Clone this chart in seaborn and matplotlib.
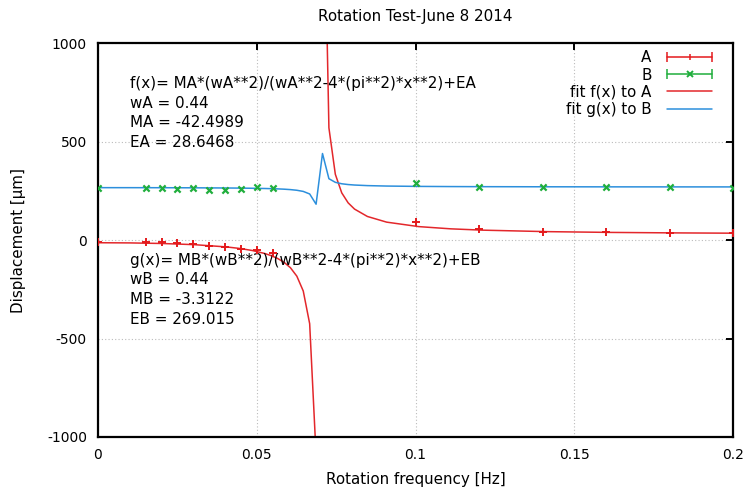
import numpy as np
import pandas as pd
import matplotlib
matplotlib.use("Agg")
import matplotlib.pyplot as plt
import seaborn as sns
from matplotlib.lines import Line2D
from matplotlib.legend_handler import HandlerTuple, HandlerLine2D

# ---- data ----
freq_A = [0.0, 0.015, 0.02, 0.025, 0.03, 0.035, 0.04, 0.045, 0.05, 0.055,
          0.1, 0.12, 0.14, 0.16, 0.18, 0.2]
disp_A = [-10, -9, -12, -17, -22, -30, -37, -46, -51, -68,
          91, 57, 42, 39, 35, 34]

freq_B = [0.0, 0.015, 0.02, 0.025, 0.03, 0.035, 0.04, 0.045, 0.05, 0.055,
          0.1, 0.12, 0.14, 0.16, 0.18, 0.2]
disp_B = [262, 265.6, 262, 259, 264, 255, 252, 260, 267, 264,
          291, 271, 271, 269, 269, 266]

# sampled fit curves (values as drawn in the reference)
fit_x = [0.0, 0.010101, 0.020202, 0.030303, 0.040404, 0.044444, 0.048485,
         0.052525, 0.054545, 0.056566, 0.058586, 0.060606, 0.062626,
         0.064646, 0.066667, 0.068687, 0.070707, 0.072727, 0.074747,
         0.076768, 0.078788, 0.080808, 0.084848, 0.090909, 0.10101,
         0.111111, 0.121212, 0.141414, 0.161616, 0.181818, 0.2]
fit_f = [-13.85, -14.76, -17.71, -23.64, -35.06, -42.52, -52.99,
         -68.52, -79.41, -93.65, -112.97, -140.68, -183.60,
         -258.90, -424.96, -1091.5, 2210.1, 569.5, 333.68,
         239.31, 188.52, 156.82, 119.45, 90.67, 67.98,
         56.65, 49.94, 42.45, 38.47, 36.05, 34.58]
fit_g = [265.70, 265.63, 265.40, 264.94, 264.05, 263.47, 262.65,
         261.44, 260.59, 259.48, 257.98, 255.82, 252.47,
         246.61, 233.66, 181.71, 439.03, 311.17, 292.79,
         285.43, 281.48, 279.00, 276.09, 273.85, 272.08,
         271.20, 270.67, 270.09, 269.78, 269.59, 269.48]
fit_f_branch = [0] * 16 + [1] * 15

x_ticks = [0, 0.05, 0.1, 0.15, 0.2]
x_ticklabels = ["0", "0.05", "0.1", "0.15", "0.2"]
y_ticks = [-1000, -500, 0, 500, 1000]

title = "Rotation Test-June 8 2014"
xlabel = "Rotation frequency [Hz]"
ylabel = "Displacement [\u03bcm]"
f_text = ["f(x)= MA*(wA**2)/(wA**2-4*(pi**2)*x**2)+EA",
          "wA = 0.44", "MA = -42.4989", "EA = 28.6468"]
g_text = ["g(x)= MB*(wB**2)/(wB**2-4*(pi**2)*x**2)+EB",
          "wB = 0.44", "MB = -3.3122", "EB = 269.015"]

RED = "#e41a1c"
FITRED = "#e3272b"
GREEN = "#1fae3c"
BLUE = "#2c8fdc"
TXT = 10.9

# ---- plot ----
sns.set_theme(style="white")
plt.rcParams["font.family"] = ["DejaVu Sans"]
plt.rcParams["axes.unicode_minus"] = False

fig = plt.figure(figsize=(7.44, 4.91), dpi=100)
ax = fig.add_axes([98 / 744, 1 - 437 / 491, (733 - 98) / 744, (437 - 43) / 491])

df_f = pd.DataFrame({"x": fit_x, "y": fit_f, "branch": fit_f_branch})
df_g = pd.DataFrame({"x": fit_x, "y": fit_g})
df_A = pd.DataFrame({"x": freq_A, "y": disp_A})
df_B = pd.DataFrame({"x": freq_B, "y": disp_B})

sns.lineplot(data=df_f, x="x", y="y", units="branch", estimator=None,
             sort=False, color=FITRED, lw=1.1, ax=ax, legend=False)
sns.lineplot(data=df_g, x="x", y="y", estimator=None, sort=False,
             color=BLUE, lw=1.1, ax=ax, legend=False)
sns.scatterplot(data=df_A, x="x", y="y", marker="+", s=30, linewidth=1.4,
                color=RED, ax=ax, legend=False, zorder=4)
sns.scatterplot(data=df_B, x="x", y="y", marker="x", s=20, linewidth=1.6,
                color=GREEN, ax=ax, legend=False, zorder=4)

ax.set_xlim(0, 0.2)
ax.set_ylim(-1000, 1000)
ax.set_xticks(x_ticks)
ax.set_xticklabels(x_ticklabels)
ax.set_yticks(y_ticks)
ax.grid(True, color="#bbbbbb", linestyle=(0, (1, 2)), linewidth=0.8)
for sp in ax.spines.values():
    sp.set_color("black")
    sp.set_linewidth(1.6)
ax.tick_params(direction="in", length=5, width=1.4, color="black",
               top=True, right=True, labelsize=10, colors="black")
ax.tick_params(axis="x", pad=8)
ax.tick_params(axis="y", pad=8)
for lab in ax.get_xticklabels() + ax.get_yticklabels():
    lab.set_color("black")

ax.set_title(title, fontsize=TXT, pad=16, color="black")
ax.set_xlabel(xlabel, fontsize=TXT, labelpad=7, color="black")
ax.set_ylabel(ylabel, fontsize=TXT, labelpad=15, color="black")

for i, t in enumerate(f_text):
    ax.text(0.0101, 795 - i * 100, t, fontsize=TXT, va="center", ha="left",
            color="black")
for i, t in enumerate(g_text):
    ax.text(0.0101, -102 - i * 100, t, fontsize=TXT, va="center", ha="left",
            color="black")

# legend handles (gnuplot-like errorbar samples)
a_line = Line2D([], [], color=RED, lw=1.1, marker="|", markersize=7, mew=1.1)
a_mark = Line2D([], [], color=RED, lw=0, marker="|", markersize=5, mew=1.1)
b_line = Line2D([], [], color=GREEN, lw=1.1, marker="|", markersize=7, mew=1.1)
b_mark = Line2D([], [], color=GREEN, lw=0, marker="x", markersize=4, mew=1.4)
f_line = Line2D([], [], color=FITRED, lw=1.1)
g_line = Line2D([], [], color=BLUE, lw=1.1)

hmap = {tuple: HandlerTuple(ndivide=1),
        a_mark: HandlerLine2D(numpoints=1),
        b_mark: HandlerLine2D(numpoints=1)}
leg = ax.legend([(a_line, a_mark), (b_line, b_mark), f_line, g_line],
                ["A", "B", "fit f(x) to A", "fit g(x) to B"],
                handler_map=hmap, numpoints=2, markerfirst=False,
                frameon=False, loc="upper right", fontsize=TXT,
                bbox_to_anchor=(0.984, 0.997), borderaxespad=0,
                handlelength=3.6, labelspacing=0.15, handletextpad=0.7)
for t in leg.get_texts():
    t.set_color("black")

fig.savefig("out.png", dpi=100)
